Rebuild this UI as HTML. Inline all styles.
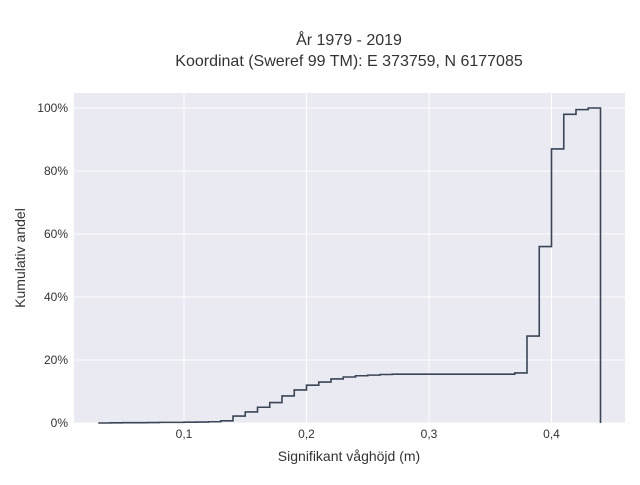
<!DOCTYPE html>
<html><head><meta charset="utf-8"><style>
body{margin:0;background:#fff;font-family:"Liberation Sans",sans-serif;}
svg text{font-family:"Liberation Sans",sans-serif;fill:#333;}
</style></head><body>
<svg width="640" height="480">
<rect x="0" y="0" width="640" height="480" fill="#fff"/>
<rect x="74" y="93" width="551" height="330" fill="#eaeaf2"/>
<g id="grid"></g>
<path id="line" fill="none" stroke="#3a4556" stroke-width="1.6"/>
<g id="ticks"></g>
<text x="349" y="45" text-anchor="middle" font-size="16">År 1979 - 2019</text>
<text x="349" y="66" text-anchor="middle" font-size="16">Koordinat (Sweref 99 TM): E 373759, N 6177085</text>
<text x="349" y="461" text-anchor="middle" font-size="14">Signifikant våghöjd (m)</text>
<text x="25" y="258" text-anchor="middle" font-size="14" transform="rotate(-90 25 258)">Kumulativ andel</text>
</svg>
<script>
const binStart = 0.03, binWidth = 0.01;
const values = [0,0.05,0.1,0.1,0.15,0.2,0.2,0.25,0.3,0.4,0.7,2.2,3.5,5,6.5,8.6,10.5,12,13,14,14.6,15,15.2,15.4,15.5,15.5,15.5,15.5,15.5,15.5,15.5,15.5,15.5,15.5,15.9,27.6,56,87,98,99.5,100];
const xTicks = [0.1,0.2,0.3,0.4];
const xTickLabels = ["0,1","0,2","0,3","0,4"];
const yTicks = [0,20,40,60,80,100];
const yTickLabels = ["0%","20%","40%","60%","80%","100%"];
const X = v => 61.5 + v*1225;
const Y = v => 423 - v*3.15;
const NS="http://www.w3.org/2000/svg";
const grid=document.getElementById('grid'), ticks=document.getElementById('ticks');
xTicks.forEach((t,i)=>{
  const l=document.createElementNS(NS,'line');
  l.setAttribute('x1',X(t));l.setAttribute('x2',X(t));l.setAttribute('y1',93);l.setAttribute('y2',423);
  l.setAttribute('stroke','#fff');l.setAttribute('stroke-width','1');
  
  
  grid.appendChild(l);
  const tx=document.createElementNS(NS,'text');
  tx.setAttribute('x',X(t));tx.setAttribute('y',438);tx.setAttribute('text-anchor','middle');tx.setAttribute('font-size','12');
  tx.textContent=xTickLabels[i];
  
  
  ticks.appendChild(tx);
});
yTicks.forEach((t,i)=>{
  const l=document.createElementNS(NS,'line');
  l.setAttribute('x1',74);l.setAttribute('x2',625);l.setAttribute('y1',Y(t));l.setAttribute('y2',Y(t));
  l.setAttribute('stroke','#fff');l.setAttribute('stroke-width','1');
  
  
  grid.appendChild(l);
  const tx=document.createElementNS(NS,'text');
  tx.setAttribute('x',68);tx.setAttribute('y',Y(t)+4);tx.setAttribute('text-anchor','end');tx.setAttribute('font-size','12');
  tx.textContent=yTickLabels[i];
  
  
  ticks.appendChild(tx);
});
let d='';
values.forEach((v,i)=>{
  const x0=X(binStart+i*binWidth), x1=X(binStart+(i+1)*binWidth);
  d += (i===0?'M':'L')+x0+','+Y(v)+' L'+x1+','+Y(v)+' ';
});
d += 'L'+X(binStart+values.length*binWidth)+','+Y(0);
document.getElementById('line').setAttribute('d',d);
</script>
</body></html>
